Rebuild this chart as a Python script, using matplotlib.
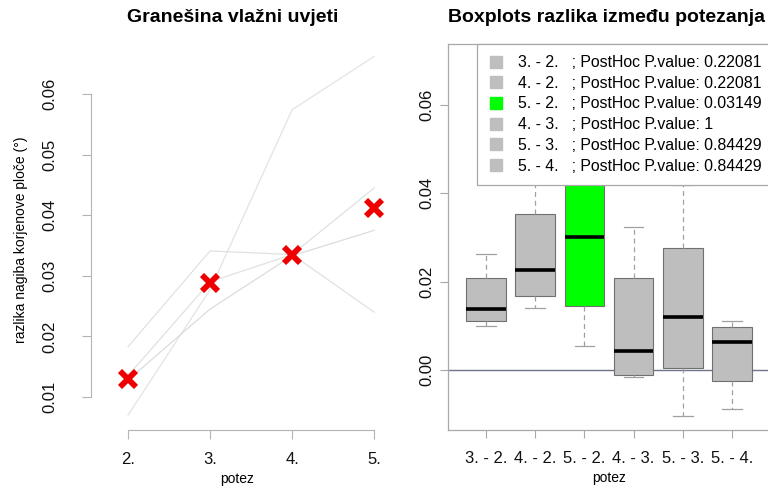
import matplotlib.pyplot as plt
from matplotlib.lines import Line2D

plt.rcParams["font.family"] = ["Liberation Sans", "DejaVu Sans"]

# 左图: 每条线在各个 potez 上的值
potez = ["2.", "3.", "4.", "5."]
linija_a = [0.0183, 0.0341, 0.0335, 0.0240]
linija_b = [0.0070, 0.0277, 0.0574, 0.0662]
linija_c = [0.0128, 0.0245, 0.0333, 0.0375]
linija_d = [0.0135, 0.0290, 0.0335, 0.0445]
prosjek = [0.0130, 0.0288, 0.0334, 0.0412]

# 右图: 箱线图的五个统计量
parovi = ["3. - 2.", "4. - 2.", "5. - 2.", "4. - 3.", "5. - 3.", "5. - 4."]
whis_lo = [0.0100, 0.0140, 0.0054, -0.0016, -0.0104, -0.0088]
q1 = [0.0111, 0.0168, 0.0145, -0.0011, 0.0005, -0.0025]
medijan = [0.0138, 0.0227, 0.0301, 0.0043, 0.0120, 0.0063]
q3 = [0.0208, 0.0353, 0.0480, 0.0208, 0.0276, 0.0097]
whis_hi = [0.0263, 0.0460, 0.0560, 0.0324, 0.0419, 0.0111]
p_values = ["0.22081", "0.22081", "0.03149", "1", "0.84429", "0.84429"]

W, H = 768, 490
fig = plt.figure(figsize=(W / 100, H / 100), dpi=100)

# ---------------- 左图 ----------------
ax1 = fig.add_axes([91 / W, 60 / H, 293 / W, 380 / H])
x = list(range(len(potez)))
line_colors = ["#dfe1e2", "#e2e4e4", "#d8dedc", "#dfe2e2"]
for y, c in zip([linija_a, linija_b, linija_c, linija_d], line_colors):
    ax1.plot(x, y, color=c, lw=0.9)
ax1.plot(x, prosjek, "x", color="#ee0000", ms=11.5, mew=4.2, zorder=5)

ax1.set_xlim(-0.451, 3.12)
ax1.set_ylim(0.00455, 0.06726)
ax1.set_xticks(x)
ax1.set_xticklabels(potez)
ax1.set_yticks([0.01, 0.02, 0.03, 0.04, 0.05, 0.06])
ax1.set_yticklabels(["0.01", "0.02", "0.03", "0.04", "0.05", "0.06"],
                    rotation=90, va="center")
for s in ["top", "right"]:
    ax1.spines[s].set_visible(False)
ax1.spines["left"].set_bounds(0.01, 0.06)
ax1.spines["bottom"].set_bounds(0, 3)
for s in ["left", "bottom"]:
    ax1.spines[s].set_color("#b4b4b4")
ax1.tick_params(axis="both", colors="#b4b4b4", labelcolor="#111111",
                length=6.5, width=0.8, labelsize=12)
ax1.tick_params(axis="y", pad=18)
ax1.tick_params(axis="x", pad=9)
ax1.set_xlabel("potez", fontsize=10, labelpad=4)
ax1.set_ylabel("razlika nagiba korjenove ploče (°)", fontsize=10, labelpad=10)

# ---------------- 右图 ----------------
ax2 = fig.add_axes([448 / W, 60 / H, 322 / W, 386 / H])
stats = []
for i in range(len(parovi)):
    stats.append({
        "label": parovi[i],
        "whislo": whis_lo[i],
        "q1": q1[i],
        "med": medijan[i],
        "q3": q3[i],
        "whishi": whis_hi[i],
    })
box_colors = ["#00ff00" if float(p) < 0.05 else "#bebebe" for p in p_values]

ax2.axhline(0, color="#6f7488", lw=1.0, zorder=0.5)
bp = ax2.bxp(
    stats,
    positions=range(1, len(parovi) + 1),
    widths=0.8,
    capwidths=0.4,
    showfliers=False,
    patch_artist=True,
    boxprops=dict(edgecolor="#707070", lw=0.8),
    whiskerprops=dict(color="#a0a0a0", lw=0.9, linestyle=(0, (4, 3))),
    capprops=dict(color="#a0a0a0", lw=0.9),
    medianprops=dict(color="black", lw=2.6, solid_capstyle="butt"),
)
for patch, c in zip(bp["boxes"], box_colors):
    patch.set_facecolor(c)

ax2.set_xlim(0.23, 6.77)
ax2.set_ylim(-0.0136, 0.0738)
ax2.set_yticks([0.00, 0.02, 0.04, 0.06])
ax2.set_yticklabels(["0.00", "0.02", "0.04", "0.06"], rotation=90, va="center")
for s in ax2.spines.values():
    s.set_color("#a8a8a8")
    s.set_linewidth(0.9)
ax2.tick_params(axis="both", colors="#a8a8a8", labelcolor="#111111",
                length=6, width=0.8, labelsize=12)
ax2.tick_params(axis="y", pad=4)
ax2.tick_params(axis="x", pad=9)
ax2.set_xlabel("potez", fontsize=10, labelpad=4)

# 图例
handles = [Line2D([], [], marker="s", ls="none", ms=8, mfc=c, mec=c)
           for c in box_colors]
labels = [f"{p}   ; PostHoc P.value: {v}" for p, v in zip(parovi, p_values)]
leg = ax2.legend(handles, labels, loc="upper left", bbox_to_anchor=(29 / 322, 1.0),
                 borderaxespad=0, fontsize=11.4, labelspacing=0.36,
                 borderpad=0.7, handlelength=1.0, handletextpad=0.9,
                 fancybox=False, framealpha=1, edgecolor="#a8a8a8")
leg.get_frame().set_linewidth(0.9)

# 标题
fig.text(233 / W, 1 - 18 / H, "Granešina vlažni uvjeti", ha="center",
         va="center", fontsize=14, fontweight="bold")
fig.text(606 / W, 1 - 18 / H, "Boxplots razlika između potezanja", ha="center",
         va="center", fontsize=14, fontweight="bold")

fig.savefig("out.png", dpi=100)
